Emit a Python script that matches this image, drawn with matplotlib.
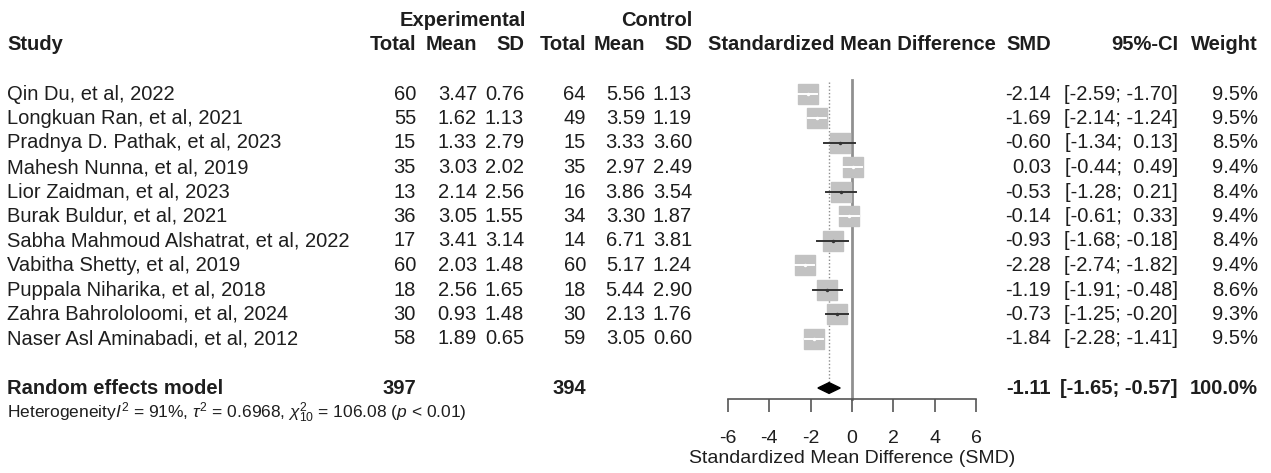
import matplotlib
matplotlib.use("Agg")
import matplotlib.pyplot as plt
import matplotlib.transforms as mtransforms
from matplotlib.patches import Polygon

plt.rcParams['font.family'] = ['Liberation Sans', 'DejaVu Sans']
plt.rcParams['mathtext.fontset'] = 'custom'
plt.rcParams['mathtext.rm'] = 'Liberation Sans'
plt.rcParams['mathtext.it'] = 'Liberation Sans:italic'

# daten
studies = ["Qin Du, et al, 2022", "Longkuan Ran, et al, 2021",
           "Pradnya D. Pathak, et al, 2023", "Mahesh Nunna, et al, 2019",
           "Lior Zaidman, et al, 2023", "Burak Buldur, et al, 2021",
           "Sabha Mahmoud Alshatrat, et al, 2022", "Vabitha Shetty, et al, 2019",
           "Puppala Niharika, et al, 2018", "Zahra Bahrololoomi, et al, 2024",
           "Naser Asl Aminabadi, et al, 2012"]
exp_n = [60, 55, 15, 35, 13, 36, 17, 60, 18, 30, 58]
exp_mean = [3.47, 1.62, 1.33, 3.03, 2.14, 3.05, 3.41, 2.03, 2.56, 0.93, 1.89]
exp_sd = [0.76, 1.13, 2.79, 2.02, 2.56, 1.55, 3.14, 1.48, 1.65, 1.48, 0.65]
ctl_n = [64, 49, 15, 35, 16, 34, 14, 60, 18, 30, 59]
ctl_mean = [5.56, 3.59, 3.33, 2.97, 3.86, 3.30, 6.71, 5.17, 5.44, 2.13, 3.05]
ctl_sd = [1.13, 1.19, 3.60, 2.49, 3.54, 1.87, 3.81, 1.24, 2.90, 1.76, 0.60]
smd = [-2.14, -1.69, -0.60, 0.03, -0.53, -0.14, -0.93, -2.28, -1.19, -0.73, -1.84]
ci_lo = [-2.59, -2.14, -1.34, -0.44, -1.28, -0.61, -1.68, -2.74, -1.91, -1.25, -2.28]
ci_hi = [-1.70, -1.24, 0.13, 0.49, 0.21, 0.33, -0.18, -1.82, -0.48, -0.20, -1.41]
weight = [9.5, 9.5, 8.5, 9.4, 8.4, 9.4, 8.4, 9.4, 8.6, 9.3, 9.5]

pooled_est, pooled_lo, pooled_hi = -1.11, -1.65, -0.57
total_exp, total_ctl = 397, 394
xticks = [-6, -4, -2, 0, 2, 4, 6]

W, H = 1271, 473
fig = plt.figure(figsize=(W / 100, H / 100), dpi=100)
ax = fig.add_axes([728 / W, 0, 248 / W, 1])

# zeilen: 24.5 px abstand, erste studie bei 94 px
row_h, row0 = 24.5, 94
ax.set_xlim(-6, 6)
ax.set_ylim((H - row0) / row_h, -row0 / row_h)

txt_col = '#1e1e1e'
fs = 14.5
tr = mtransforms.blended_transform_factory(fig.transFigure, ax.transData)


def put(px, row, s, ha='right', bold=False, size=fs):
    ax.text(px / W, row, s, transform=tr, ha=ha, va='center',
            fontsize=size, color=txt_col, fontweight='bold' if bold else 'normal')


# kopfzeilen
put(463, -3, "Experimental", ha='center', bold=True)
put(657, -3, "Control", ha='center', bold=True)
put(7, -2, "Study", ha='left', bold=True)
for px, s in [(416, "Total"), (477, "Mean"), (524, "SD"), (586, "Total"),
              (645, "Mean"), (692, "SD"), (1051, "SMD"), (1178, "95%-CI"),
              (1258, "Weight")]:
    put(px, -2, s, bold=True)
put(852, -2, "Standardized Mean Difference", ha='center', bold=True)


def ci_str(lo, hi):
    a = f"{lo:.2f}" if lo < 0 else f" {lo:.2f}"
    b = f"{hi:.2f}" if hi < 0 else f" {hi:.2f}"
    return f"[{a}; {b}]"


# studienzeilen
for i, name in enumerate(studies):
    put(7, i, name, ha='left')
    put(416, i, str(exp_n[i]))
    put(477, i, f"{exp_mean[i]:.2f}")
    put(524, i, f"{exp_sd[i]:.2f}")
    put(586, i, str(ctl_n[i]))
    put(645, i, f"{ctl_mean[i]:.2f}")
    put(692, i, f"{ctl_sd[i]:.2f}")
    put(1051, i, f"{smd[i]:.2f}")
    put(1178, i, ci_str(ci_lo[i], ci_hi[i]))
    put(1258, i, f"{weight[i]:.1f}%")

# zusammenfassung
sr = 12
put(7, sr, "Random effects model", ha='left', bold=True)
put(416, sr, str(total_exp), bold=True)
put(586, sr, str(total_ctl), bold=True)
put(1051, sr, f"{pooled_est:.2f}", bold=True)
put(1178, sr, ci_str(pooled_lo, pooled_hi), bold=True)
put(1258, sr, "100.0%", bold=True)
put(7, sr + 1, r"Heterogeneity$I^2$ = 91%, $\tau^2$ = 0.6968, $\chi^2_{10}$ = 106.08 ($p$ < 0.01)",
    ha='left', size=12.5)

axis_y = 12.45
# nulllinie und gepoolter schaetzer
ax.plot([0, 0], [-0.57, axis_y], color='#909090', lw=2, zorder=1)
ax.plot([pooled_est, pooled_est], [-0.5, 11.75], color='#8c8c8c', lw=1,
        ls=(0, (1, 1.5)), zorder=1)

# quadrate + KI
px_per_unit = 248 / 12
for i in range(len(studies)):
    side_px = 20.5 * (weight[i] / max(weight)) ** 0.5
    inside = (ci_hi[i] - ci_lo[i]) * px_per_unit < side_px
    lc = 'white' if inside else '#333333'
    ax.plot(smd[i], i, marker='s', ms=side_px * 0.72, mfc='#c2c2c2',
            mec='#c2c2c2', ls='none', zorder=2)
    ax.plot([ci_lo[i], ci_hi[i]], [i, i], color=lc, lw=1.4, zorder=3)
    ax.plot(smd[i], i, marker='o', ms=2.5, color=lc, mec='none', zorder=4)

# raute
dh = 0.22
ax.add_patch(Polygon([[pooled_lo, sr], [pooled_est, sr - dh], [pooled_hi, sr],
                      [pooled_est, sr + dh]], closed=True, fc='black', ec='black',
                     zorder=4))

# x-achse
for s in ['top', 'left', 'right']:
    ax.spines[s].set_visible(False)
ax.spines['bottom'].set_position(('data', axis_y))
ax.spines['bottom'].set_bounds(-6, 6)
ax.spines['bottom'].set_color('#555555')
ax.spines['bottom'].set_linewidth(1.2)
ax.set_yticks([])
ax.set_xticks(xticks)
ax.set_xticklabels([str(t) for t in xticks])
ax.tick_params(axis='x', direction='out', length=9.5, width=1.2, color='#555555',
               labelsize=14, labelcolor=txt_col, pad=13)
ax.set_xlabel("Standardized Mean Difference (SMD)", fontsize=14, color=txt_col,
              labelpad=2)
ax.patch.set_alpha(0)

fig.savefig("out.png", dpi=100)
